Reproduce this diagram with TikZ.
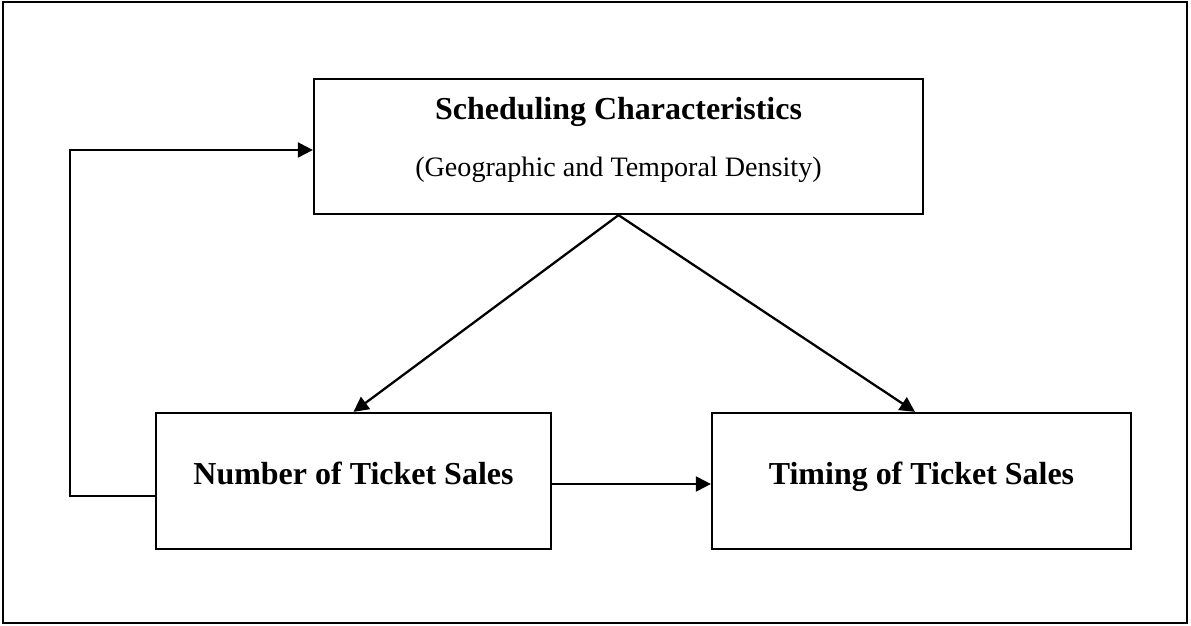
\documentclass[tikz,border=0pt]{standalone}
\usepackage{fontspec}
\setmainfont{Liberation Serif}
\usepackage{tikz}
\usetikzlibrary{arrows.meta, positioning}

\begin{document}
\begin{tikzpicture}[
  box/.style={rectangle, draw, line width=1.3pt, align=center, inner sep=4pt, font=\fontsize{18.2pt}{32.4pt}\selectfont\bfseries},
  arrow/.style={-{Triangle[length=0.3cm, width=0.3cm]}, line width=1.3pt, draw=black}
]

% ---------------------------------------------------
% Canvas & Frame
% ---------------------------------------------------
\useasboundingbox (0,0) rectangle (23.82,12.5);
\draw[line width=1.3pt] (0.06,0.04) rectangle (23.74,12.46);

\def\yTop{9.57}
\def\yBottom{2.88}

% ---------------------------------------------------
% Boxes
% ---------------------------------------------------
\node[box, minimum width=12.18cm, minimum height=2.7cm] (sched) at (12.37, \yTop) {Scheduling Characteristics\\{\fontsize{16pt}{32.4pt}\selectfont\mdseries (Geographic and Temporal Density)\rule[-0.4cm]{0pt}{0pt}}};

\node[box, minimum width=7.9cm, minimum height=2.72cm, text height=0.5cm, text depth=0.34cm] (number) at (7.07, \yBottom) {Number of Ticket Sales};

\node[box, minimum width=8.38cm, minimum height=2.72cm, text height=0.5cm, text depth=0.34cm] (timing) at (18.43, \yBottom) {Timing of Ticket Sales};

% ---------------------------------------------------
% Draw Connections
% ---------------------------------------------------
\draw[arrow] (sched.south) -- (number.north);
\draw[arrow] (sched.south) -- ([xshift=-0.13cm]timing.north);

\draw[arrow] ([yshift=-0.06cm]number.east) -- ([yshift=-0.06cm]timing.west);

\draw[arrow] ([yshift=-0.3cm]number.west) -- ++(-1.7,0) |- ([yshift=-0.07cm]sched.west);

\end{tikzpicture}
\end{document}
